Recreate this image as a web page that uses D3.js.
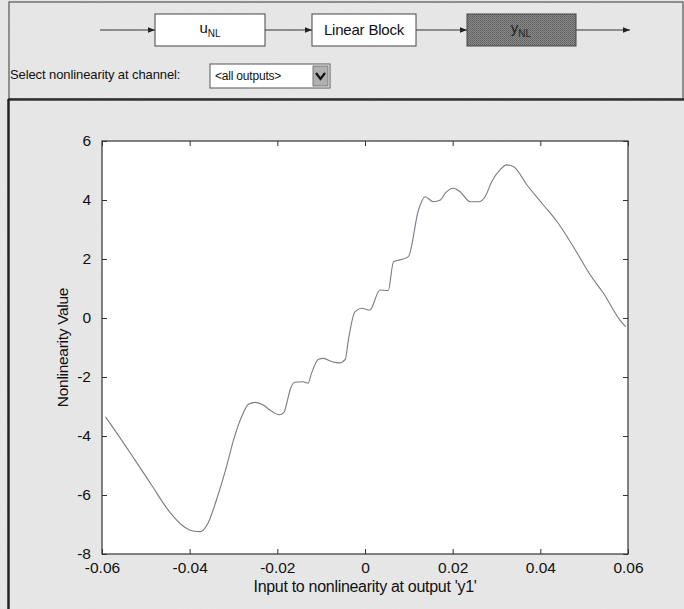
<!DOCTYPE html>
<html>
<head>
<meta charset="utf-8">
<script src="https://cdn.jsdelivr.net/npm/d3@7"></script>
<style>
  html, body { margin: 0; padding: 0; background: #e6e6e6; }
  svg { display: block; font-family: "Liberation Sans", Arial, sans-serif; }
</style>
</head>
<body>
<svg id="chart" width="684" height="609"></svg>
<script>
// Nonlinearity curve samples: input value and nonlinearity value
const inputValues = [
  -0.0592, -0.0563, -0.0525, -0.0487, -0.0449, -0.0415, -0.0392, -0.0375,
  -0.0358, -0.0339, -0.0316, -0.0300, -0.0278, -0.0266, -0.0250, -0.0232,
  -0.0217, -0.0195, -0.0185, -0.0178, -0.0171, -0.0160, -0.0141, -0.0130,
  -0.0122, -0.0106, -0.0095, -0.0075, -0.0058, -0.0045, -0.0038, -0.0023,
  -0.0007, 0.0011, 0.0034, 0.0053, 0.0065, 0.0080, 0.0099, 0.0122,
  0.0137, 0.0156, 0.0172, 0.0183, 0.0202, 0.0217, 0.0240, 0.0259,
  0.0274, 0.0289, 0.0308, 0.0323, 0.0339, 0.0370, 0.0407, 0.0438,
  0.0476, 0.0514, 0.0544, 0.0582, 0.0595
];
const nonlinValues = [
  -3.35, -3.97, -4.81, -5.66, -6.51, -7.05, -7.22, -7.24,
  -6.95, -6.17, -5.04, -4.14, -3.23, -2.92, -2.86, -2.95,
  -3.12, -3.28, -3.20, -2.85, -2.44, -2.18, -2.16, -2.21,
  -1.87, -1.40, -1.37, -1.48, -1.52, -1.40, -0.75, 0.21,
  0.33, 0.27, 0.95, 0.93, 1.91, 1.97, 2.08, 3.66,
  4.11, 3.94, 4.00, 4.23, 4.40, 4.28, 3.94, 3.94,
  4.11, 4.62, 5.02, 5.19, 5.13, 4.50, 3.83, 3.27,
  2.40, 1.46, 0.84, -0.08, -0.30
];
const xTicks = [-0.06, -0.04, -0.02, 0, 0.02, 0.04, 0.06];
const xTickLabels = ["-0.06", "-0.04", "-0.02", "0", "0.02", "0.04", "0.06"];
const yTicks = [6, 4, 2, 0, -2, -4, -6, -8];
const yTickLabels = ["6", "4", "2", "0", "-2", "-4", "-6", "-8"];

const svg = d3.select("#chart");

// grainy panel background
const defs = svg.append("defs");
const grain = defs.append("filter").attr("id", "grain").attr("x", 0).attr("y", 0).attr("width", 1).attr("height", 1);
grain.append("feTurbulence").attr("type", "fractalNoise").attr("baseFrequency", 0.9).attr("numOctaves", 2).attr("seed", 3).attr("result", "n");
grain.append("feColorMatrix").attr("in", "n").attr("type", "matrix")
  .attr("values", "0 0 0 0 0.80  0 0 0 0 0.80  0 0 0 0 0.80  -1.8 0 0 0 1.05");
const stipple = defs.append("pattern").attr("id", "stipple").attr("width", 2).attr("height", 2).attr("patternUnits", "userSpaceOnUse");
stipple.append("rect").attr("width", 2).attr("height", 2).attr("fill", "#8a8a8a");
stipple.append("rect").attr("width", 1).attr("height", 1).attr("fill", "#5e5e5e");
stipple.append("rect").attr("x", 1).attr("y", 1).attr("width", 1).attr("height", 1).attr("fill", "#6a6a6a");
const arrow = defs.append("marker").attr("id", "arr").attr("viewBox", "0 0 10 10").attr("refX", 10).attr("refY", 5)
  .attr("markerWidth", 7).attr("markerHeight", 7).attr("orient", "auto");
arrow.append("path").attr("d", "M0,1 L10,5 L0,9 Z").attr("fill", "#222");

svg.append("rect").attr("width", 684).attr("height", 609).attr("fill", "#e6e6e6");
svg.append("rect").attr("width", 684).attr("height", 609).attr("filter", "url(#grain)").attr("opacity", 0.8);

// ---- block diagram header ----
const header = svg.append("g");
header.append("rect").attr("x", 9).attr("y", 2).attr("width", 674).attr("height", 97)
  .attr("fill", "none").attr("stroke", "#555").attr("stroke-width", 1.2);
header.append("line").attr("x1", 8).attr("x2", 684).attr("y1", 99.5).attr("y2", 99.5)
  .attr("stroke", "#333").attr("stroke-width", 2.5);

const blockY = 14, blockH = 32, midY = blockY + blockH / 2;
const arrows = [[100, 155], [265, 312], [416, 467], [576, 630]];
arrows.forEach(([a, b]) => {
  header.append("line").attr("x1", a).attr("x2", b).attr("y1", midY).attr("y2", midY)
    .attr("stroke", "#333").attr("stroke-width", 1).attr("marker-end", "url(#arr)");
});
const blocks = [
  { x: 155, w: 110, fill: "#ffffff" },
  { x: 312, w: 104, fill: "#ffffff" },
  { x: 467, w: 109, fill: "url(#stipple)" }
];
blocks.forEach(b => {
  header.append("rect").attr("x", b.x).attr("y", blockY).attr("width", b.w).attr("height", blockH)
    .attr("fill", b.fill).attr("stroke", "#444").attr("stroke-width", 1);
});
const uText = header.append("text").attr("x", 210).attr("y", midY + 3).attr("text-anchor", "middle")
  .attr("font-size", 15).attr("fill", "#111");
uText.append("tspan").text("u");
uText.append("tspan").attr("dy", 4).attr("font-size", 10).text("NL");
header.append("text").attr("x", 364).attr("y", midY + 5).attr("text-anchor", "middle")
  .attr("font-size", 15).attr("fill", "#111").attr("letter-spacing", -0.2).text("Linear Block");
const yText = header.append("text").attr("x", 521).attr("y", midY + 3).attr("text-anchor", "middle")
  .attr("font-size", 15).attr("fill", "#222");
yText.append("tspan").text("y");
yText.append("tspan").attr("dy", 4).attr("font-size", 10).text("NL");

header.append("text").attr("x", 10).attr("y", 79).attr("font-size", 13).attr("fill", "#111")
  .attr("letter-spacing", -0.1).text("Select nonlinearity at channel:");
header.append("rect").attr("x", 210).attr("y", 64).attr("width", 120).attr("height", 24)
  .attr("fill", "#fff").attr("stroke", "#555");
header.append("text").attr("x", 215).attr("y", 80).attr("font-size", 12).attr("fill", "#111")
  .attr("letter-spacing", -0.2).text("<all outputs>");
header.append("rect").attr("x", 313).attr("y", 66).attr("width", 15).attr("height", 20)
  .attr("fill", "#b0b0b0").attr("stroke", "#777");
header.append("path").attr("d", "M316,73 L320.5,79 L325,73").attr("fill", "none")
  .attr("stroke", "#111").attr("stroke-width", 2.2);

// left frame edge of the plot panel
svg.append("line").attr("x1", 8.5).attr("x2", 8.5).attr("y1", 99).attr("y2", 609)
  .attr("stroke", "#222").attr("stroke-width", 2.5);

// ---- plot ----
const m = { left: 102, right: 628, top: 141, bottom: 554 };
const x = d3.scaleLinear().domain([-0.06, 0.06]).range([m.left, m.right]);
const y = d3.scaleLinear().domain([-8, 6]).range([m.bottom, m.top]);

svg.append("rect").attr("x", m.left).attr("y", m.top).attr("width", m.right - m.left).attr("height", m.bottom - m.top)
  .attr("fill", "#ffffff");

const fmtX = (d, i) => xTickLabels[i];
const fmtY = (d, i) => yTickLabels[i];
const axisStyle = g => {
  g.select(".domain").remove();
  g.selectAll(".tick line").attr("stroke", "#333");
  g.selectAll(".tick text").attr("font-size", 15.5).attr("fill", "#111")
    .attr("font-family", "'Liberation Sans', Arial, sans-serif");
};

svg.append("g").attr("transform", `translate(0,${m.bottom})`)
  .call(d3.axisBottom(x).tickValues(xTicks).tickFormat(fmtX).tickSizeInner(-5).tickPadding(8))
  .call(axisStyle);
svg.append("g").attr("transform", `translate(0,${m.top})`)
  .call(d3.axisTop(x).tickValues(xTicks).tickFormat("").tickSizeInner(-5))
  .call(axisStyle);
svg.append("g").attr("transform", `translate(${m.left},0)`)
  .call(d3.axisLeft(y).tickValues(yTicks).tickFormat(fmtY).tickSizeInner(-5).tickPadding(11))
  .call(axisStyle);
svg.append("g").attr("transform", `translate(${m.right},0)`)
  .call(d3.axisRight(y).tickValues(yTicks).tickFormat("").tickSizeInner(-5))
  .call(axisStyle);

svg.append("rect").attr("x", m.left).attr("y", m.top).attr("width", m.right - m.left).attr("height", m.bottom - m.top)
  .attr("fill", "none").attr("stroke", "#333").attr("stroke-width", 1.2);

const pts = inputValues.map((v, i) => [v, nonlinValues[i]]);
const line = d3.line().x(d => x(d[0])).y(d => y(d[1])).curve(d3.curveMonotoneX);
svg.append("path").datum(pts).attr("d", line).attr("fill", "none")
  .attr("stroke", "#555a66").attr("stroke-width", 1.1).attr("opacity", 0.8);

svg.append("text").attr("x", (m.left + m.right) / 2).attr("y", 592).attr("text-anchor", "middle")
  .attr("font-size", 16).attr("fill", "#111").attr("letter-spacing", -0.3)
  .text("Input to nonlinearity at output 'y1'");
svg.append("text").attr("transform", `translate(68,${(m.top + m.bottom) / 2}) rotate(-90)`)
  .attr("text-anchor", "middle").attr("font-size", 15.5).attr("fill", "#111").attr("letter-spacing", -0.3)
  .text("Nonlinearity Value");
</script>
</body>
</html>
